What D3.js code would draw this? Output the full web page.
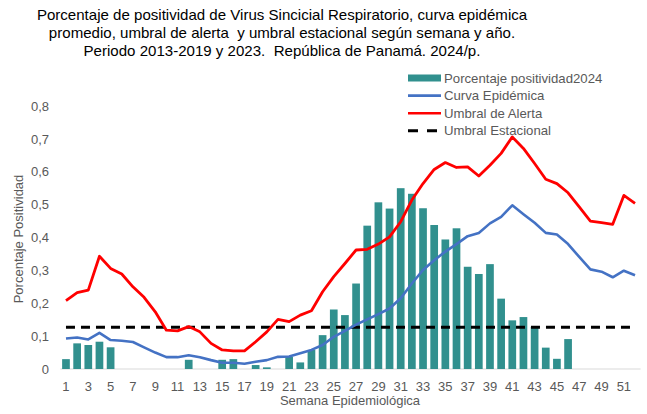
<!DOCTYPE html>
<html><head><meta charset="utf-8">
<script src="https://cdn.jsdelivr.net/npm/d3@7"></script>
<style>body{margin:0;background:#fff;} text{font-family:Arial,"Liberation Sans",sans-serif;} .title{white-space:pre;}</style>
</head><body>
<svg id="chart" width="647" height="414"></svg>
<script>
const weeks = d3.range(1, 53);
const positividad2024 = [0.03,0.078,0.073,0.083,0.066,null,null,null,null,null,null,0.028,null,null,0.028,0.03,null,0.012,0.005,null,0.037,0.02,0.058,0.103,0.181,0.164,0.26,0.436,0.507,0.488,0.55,0.533,0.489,0.438,0.394,0.428,0.311,0.289,0.319,0.214,0.148,0.158,0.128,0.065,0.031,0.091,null,null,null,null,null,null];
const curvaEpidemica = [0.093,0.096,0.09,0.11,0.088,0.086,0.082,0.066,0.05,0.036,0.036,0.042,0.036,0.027,0.019,0.019,0.016,0.022,0.027,0.037,0.038,0.048,0.058,0.073,0.098,0.116,0.135,0.151,0.167,0.184,0.215,0.26,0.301,0.331,0.357,0.38,0.404,0.414,0.443,0.463,0.498,0.471,0.445,0.414,0.409,0.38,0.341,0.303,0.296,0.279,0.299,0.285];
const umbralAlerta = [0.208,0.232,0.24,0.343,0.306,0.289,0.25,0.218,0.174,0.118,0.116,0.129,0.113,0.078,0.058,0.055,0.055,0.083,0.113,0.151,0.144,0.164,0.177,0.235,0.281,0.321,0.362,0.364,0.38,0.402,0.448,0.514,0.564,0.607,0.628,0.613,0.615,0.587,0.62,0.656,0.706,0.671,0.625,0.577,0.564,0.536,0.493,0.45,0.445,0.44,0.528,0.504];
const umbralEstacional = weeks.map(() => 0.127);
const yTicks = [0,0.1,0.2,0.3,0.4,0.5,0.6,0.7,0.8];
const xTickLabels = weeks.filter(w => w % 2 === 1);
const titleLines = ["Porcentaje de positividad de Virus Sincicial Respiratorio, curva epidémica",
  "promedio, umbral de alerta  y umbral estacional según semana y año.",
  "Periodo 2013-2019 y 2023.  República de Panamá. 2024/p."];
const legendItems = [
  {label:"Porcentaje positividad2024", type:"bar", color:"#31908E"},
  {label:"Curva Epidémica", type:"line", color:"#4472C4"},
  {label:"Umbral de Alerta", type:"line", color:"#FF0000"},
  {label:"Umbral Estacional", type:"dash", color:"#000000"}
];

const svg = d3.select("#chart");
const x = d3.scaleBand().domain(weeks).range([60.4, 640.6]).paddingInner(0.31).paddingOuter(0.155);
const xc = w => x(w) + x.bandwidth()/2;
const y = d3.scaleLinear().domain([0, 0.8]).range([369, 106]);
const grey = "#595959";

// title (slightly wide glyphs in reference)
const tg = svg.append("g").attr("transform","translate(282,0) scale(1.077,1)");
tg.selectAll("text").data(titleLines).join("text")
  .attr("class","title")
  .attr("x", 0).attr("y", (d,i) => 20 + i*18.2)
  .attr("text-anchor","middle").attr("font-size", 14).attr("fill","#000")
  .text(d => d);

// baseline
svg.append("line").attr("x1",60.4).attr("x2",640.6).attr("y1",y(0)).attr("y2",y(0))
  .attr("stroke","#d9d9d9").attr("stroke-width",1);

// y axis
const yAxis = d3.axisLeft(y).tickValues(yTicks).tickSize(0).tickPadding(0)
  .tickFormat(d => d === 0 ? "0" : d3.format(".1f")(d).replace(".", ","));
const yg = svg.append("g").attr("transform","translate(49,0)").call(yAxis);
yg.select(".domain").remove();
yg.selectAll("text").attr("font-size",13).attr("fill",grey).attr("font-family","Arial, Liberation Sans, sans-serif");

// x axis
const xAxis = d3.axisBottom(x).tickValues(xTickLabels).tickSize(0).tickPadding(0);
const xg = svg.append("g").attr("transform","translate(0,382)").call(xAxis);
xg.select(".domain").remove();
xg.selectAll("text").attr("font-size",13).attr("fill",grey).attr("font-family","Arial, Liberation Sans, sans-serif");

// axis titles
svg.append("text").attr("x",350).attr("y",405).attr("text-anchor","middle")
  .attr("font-size",13).attr("fill",grey).text("Semana Epidemiológica");
svg.append("text").attr("transform","translate(23,239) rotate(-90)").attr("text-anchor","middle")
  .attr("font-size",13).attr("fill",grey).text("Porcentaje Positividad");

// bars
svg.append("g").selectAll("rect").data(weeks.map((w,i)=>({w, v:positividad2024[i]})).filter(d=>d.v!=null))
  .join("rect")
  .attr("x", d => x(d.w)).attr("width", x.bandwidth())
  .attr("y", d => y(d.v)).attr("height", d => y(0)-y(d.v))
  .attr("fill","#31908E");

// lines
const line = d3.line().x((d,i)=>xc(weeks[i])).y(d=>y(d));
svg.append("path").datum(umbralEstacional).attr("d",line).attr("fill","none")
  .attr("stroke","#000").attr("stroke-width",3).attr("stroke-dasharray","9,6");
svg.append("path").datum(curvaEpidemica).attr("d",line).attr("fill","none")
  .attr("stroke","#4472C4").attr("stroke-width",2.6).attr("stroke-linejoin","round");
svg.append("path").datum(umbralAlerta).attr("d",line).attr("fill","none")
  .attr("stroke","#FF0000").attr("stroke-width",2.8).attr("stroke-linejoin","round");

// legend
const lg = svg.append("g");
legendItems.forEach((it,i) => {
  const cy = 78 + i*17.6;
  if (it.type === "bar") {
    lg.append("rect").attr("x",408).attr("y",cy-3.5).attr("width",33).attr("height",7).attr("fill",it.color);
  } else {
    lg.append("line").attr("x1",408).attr("x2",441).attr("y1",cy).attr("y2",cy)
      .attr("stroke",it.color).attr("stroke-width", it.type==="dash"?3:2.6)
      .attr("stroke-dasharray", it.type==="dash" ? "10,9" : null);
  }
  lg.append("text").attr("x",444).attr("y",cy+4.5).attr("font-size",13.2).attr("fill",grey).text(it.label);
});
</script>
</body></html>
